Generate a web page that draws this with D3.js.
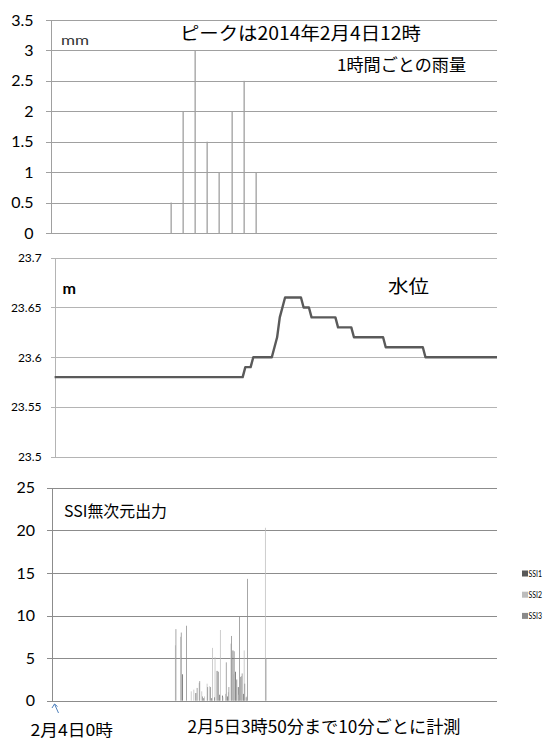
<!DOCTYPE html>
<html><head><meta charset="utf-8">
<script src="https://cdn.jsdelivr.net/npm/d3@7"></script>
<style>
html,body{margin:0;padding:0;background:#fff;}
svg{display:block;}
.jp{font-family:"Noto Sans CJK JP","Noto Sans",sans-serif;}
.num{font-family:Lato,"Liberation Sans",sans-serif;}
</style></head><body>
<svg id="c" width="545" height="740"></svg>
<script>
// ---------- DATA ----------
// Top: hourly rainfall (mm), hour index on a 0..37 axis
const rainHours  = [10, 11, 12, 13, 14, 15, 16, 17];
const rainValues = [0.5, 2, 3, 1.5, 1, 2, 2.5, 1];
const rainTicks  = [0, 0.5, 1, 1.5, 2, 2.5, 3, 3.5];

// Middle: water level (m), 10-minute index 0..167 (breakpoints)
const levelIdx    = [0, 71, 72, 74, 75, 82, 84, 85, 86, 87, 93, 94, 96, 97, 106, 107, 112, 113, 124, 125, 139, 140, 167];
const levelValues = [23.58, 23.58, 23.59, 23.59, 23.60, 23.60, 23.62, 23.64, 23.65, 23.66, 23.66, 23.65, 23.65, 23.64, 23.64, 23.63, 23.63, 23.62, 23.62, 23.61, 23.61, 23.60, 23.60];
const levelTicks  = [23.5, 23.55, 23.6, 23.65, 23.7];

// Bottom: SSI outputs, 10-minute index 0..167
const ssiNames = ["SSI1", "SSI2", "SSI3"];
const ssi1Idx = [49, 54, 57, 60, 61, 62, 63, 64, 66, 68, 69, 70, 71, 72, 73];
const ssi1Val = [3.1, 0.9, 0.3, 0.3, 0.4, 3.5, 0.7, 0.6, 0.5, 5.9, 3.4, 1.6, 2.8, 0.8, 0.4];
const ssi2Idx = [46, 48, 52, 53, 55, 56, 57, 58, 59, 60, 61, 63, 64, 65, 66, 67, 68, 69, 70, 71, 72, 73, 80];
const ssi2Val = [6.5, 7.5, 1.1, 1.3, 2.1, 1.1, 0.5, 2.0, 1.7, 6.2, 5.1, 8.3, 0.4, 0.8, 1.0, 6.7, 3.1, 2.4, 0.7, 2.9, 5.9, 0.5, 20.3];
const ssi3Idx = [46, 48, 50, 54, 55, 56, 58, 59, 62, 65, 66, 67, 68, 69, 70, 71, 72, 73, 80];
const ssi3Val = [8.4, 8.0, 8.8, 1.5, 2.3, 0.5, 1.6, 1.6, 3.4, 4.5, 1.6, 7.6, 5.8, 2.5, 9.9, 3.2, 2.0, 14.3, 5.0];
const ssiTicks = [0, 5, 10, 15, 20, 25];

const nPoints = 168;

// ---------- DRAW ----------
const svg = d3.select("#c");

function gridAxis(g, scale, ticks, x0, w, gridColor, tickLen, pad, fontSize, fmt) {
  g.append("g").attr("transform", `translate(${x0},0)`)
    .call(d3.axisLeft(scale).tickValues(ticks).tickSize(-w).tickFormat(""))
    .call(s => s.select(".domain").remove())
    .call(s => s.selectAll("line").attr("stroke", gridColor).attr("stroke-width", 1).attr("shape-rendering", "crispEdges"));
  g.append("g").attr("transform", `translate(${x0},0)`)
    .call(d3.axisLeft(scale).tickValues(ticks).tickSizeInner(tickLen).tickSizeOuter(0).tickPadding(pad).tickFormat(fmt))
    .call(s => s.select(".domain").attr("stroke", gridColor).attr("shape-rendering", "crispEdges"))
    .call(s => s.selectAll("line").attr("stroke", gridColor).attr("shape-rendering", "crispEdges"))
    .call(s => s.selectAll("text").attr("class", "num").attr("fill", "#000").attr("font-size", fontSize));
}

function label(g, cls, x, y, size, txt, len, extra) {
  const t = g.append("text").attr("class", cls).attr("x", x).attr("y", y)
    .attr("font-size", size).attr("fill", "#000").text(txt);
  if (len) t.attr("textLength", len).attr("lengthAdjust", "spacingAndGlyphs");
  if (extra) extra(t);
  return t;
}

// ===== Top chart =====
const gTop = svg.append("g");
const xRain = d3.scaleLinear().domain([0, 37]).range([50.5, 497]);
const yRain = d3.scaleLinear().domain([0, 3.5]).range([233, 20]);
gridAxis(gTop, yRain, rainTicks, 50.5, 446.5, "#a0a0a0", 5, 12, 16, d3.format(""));
gTop.selectAll("rect.rain").data(rainHours).join("rect")
  .attr("class", "rain")
  .attr("x", (d) => Math.round(xRain(d)) - 0.5)
  .attr("width", 1.3)
  .attr("y", (d, i) => yRain(rainValues[i]))
  .attr("height", (d, i) => yRain(0) - yRain(rainValues[i]))
  .attr("fill", "#a0a0a0");
label(gTop, "num", 61, 45, 14, "mm", 28, t => t.attr("fill", "#333"));
label(gTop, "jp", 180, 39.5, 18, "ピークは2014年2月4日12時", 241);
label(gTop, "jp", 337, 71, 16.5, "1時間ごとの雨量", 129);

// ===== Middle chart =====
const gMid = svg.append("g");
const xLevel = d3.scaleLinear().domain([0, nPoints - 1]).range([54.6, 497]);
const yLevel = d3.scaleLinear().domain([23.5, 23.7]).range([456.7, 257.7]);
gridAxis(gMid, yLevel, levelTicks, 54.6, 442.4, "#b4b4b4", 4, 9, 12, d3.format(""));
const levelData = levelIdx.map((d, i) => [d, levelValues[i]]);
gMid.append("path")
  .datum(levelData)
  .attr("fill", "none")
  .attr("stroke", "#5a5a5a")
  .attr("stroke-width", 2.4)
  .attr("stroke-linejoin", "round")
  .attr("d", d3.line().x(d => xLevel(d[0])).y(d => yLevel(d[1])));
label(gMid, "num", 62.5, 293.5, 16, "m", 13.5, t => t.attr("font-weight", "bold"));
label(gMid, "jp", 388, 293, 18, "水位", 41);

// ===== Bottom chart =====
const gBot = svg.append("g");
const xSsi = d3.scaleBand().domain(d3.range(nPoints)).range([52.1, 497]).paddingInner(0).paddingOuter(0);
const xInner = d3.scaleBand().domain(ssiNames).range([0.4, xSsi.bandwidth() - 0.4]);
const ySsi = d3.scaleLinear().domain([0, 25]).range([700.7, 487.7]);
gridAxis(gBot, ySsi, ssiTicks, 52.1, 444.9, "#8c8c8c", 5, 12, 16, d3.format(""));
const ssiColors = { SSI1: "#595959", SSI2: "#bdbdbd", SSI3: "#8a8a8a" };
const ssiSeries = [
  { name: "SSI1", idx: ssi1Idx, val: ssi1Val },
  { name: "SSI2", idx: ssi2Idx, val: ssi2Val },
  { name: "SSI3", idx: ssi3Idx, val: ssi3Val }
];
ssiSeries.forEach(s => {
  gBot.append("g").selectAll("rect").data(s.idx.map((d, i) => ({ i: d, v: s.val[i] }))).join("rect")
    .attr("x", d => xSsi(d.i) + xInner(s.name))
    .attr("width", 0.75)
    .attr("y", d => ySsi(d.v))
    .attr("height", d => ySsi(0) - ySsi(d.v))
    .attr("fill", ssiColors[s.name]);
});
label(gBot, "jp", 64, 517, 16, "SSI無次元出力", 103);

// legend
const gLeg = svg.append("g");
ssiNames.forEach((n, i) => {
  const ly = 573.5 + i * 21.2;
  gLeg.append("rect").attr("x", 522).attr("y", ly - 3).attr("width", 6).attr("height", 6).attr("fill", ssiColors[n]);
  label(gLeg, "num", 528.5, ly + 3, 8.5, n, 13.5);
});

// bottom annotations
const gArrow = svg.append("g").attr("stroke", "#4f81bd").attr("fill", "none").attr("stroke-width", 1);
gArrow.append("path").attr("d", "M58.5,713 L54.5,704");
gArrow.append("path").attr("d", "M52,708 L54.5,704 L57.5,706.5");
label(svg, "jp", 30.5, 736, 16, "2月4日0時", 82.5);
label(svg, "jp", 187.5, 732.5, 17, "2月5日3時50分まで10分ごとに計測", 273);
</script>
</body></html>
